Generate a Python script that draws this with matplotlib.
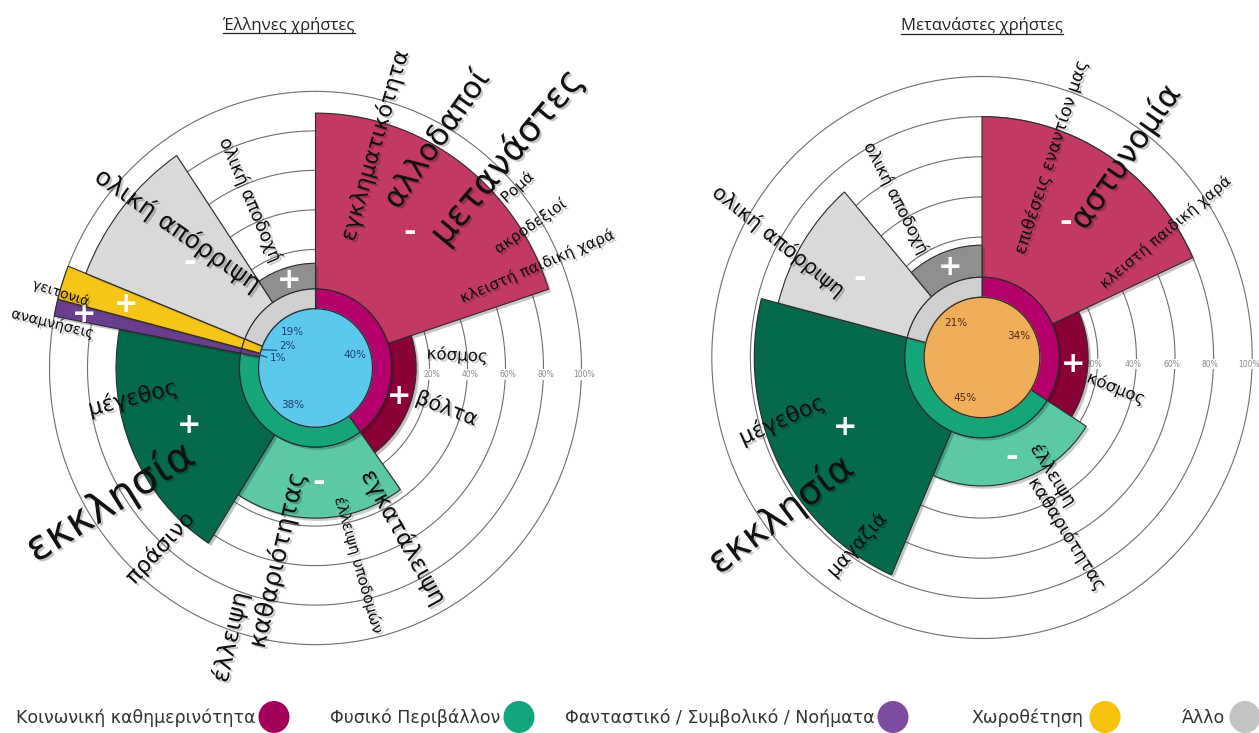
import numpy as np
import matplotlib
matplotlib.use('Agg')
import matplotlib.pyplot as plt
import matplotlib.patheffects as pe
from matplotlib.patches import Ellipse
from matplotlib.lines import Line2D

W, H = 1259, 733
fig = plt.figure(figsize=(W / 100, H / 100), dpi=100)
fig.patch.set_facecolor('white')

# ---------------- data ----------------
categories = ['Κοινωνική καθημερινότητα', 'Φυσικό Περιβάλλον',
              'Φανταστικό / Συμβολικό / Νοήματα', 'Χωροθέτηση', 'Άλλο']
titles = ['Έλληνες χρήστες', 'Μετανάστες χρήστες']
grid_levels = [20, 40, 60, 80, 100]

# inner pie: share of each category (%), clockwise from top
greek_share = [40, 38, 1, 2, 19]
migrant_share = [34, 45, 0, 0, 21]

# outer wedges: '-' (negative) wedge then '+' (positive) wedge per category
greek_neg_value = [89, 36, 0, 0, 90]
greek_pos_value = [13, 65, 100, 100, 13]
greek_neg_frac = [0.50, 0.50, 0.0, 0.0, 0.50]

migrant_neg_value = [80, 24, 0, 0, 69]
migrant_pos_value = [15, 78, 0, 0, 16]
migrant_neg_frac = [0.535, 0.50, 0.0, 0.0, 0.46]

greek_labels = ['εγκληματικότητα', 'αλλοδαποί', 'μετανάστες', 'Ρομά', 'ακροδεξιοί',
                'κλειστή παιδική χαρά', 'ολική αποδοχή', 'ολική απόρριψη', 'γειτονιά',
                'αναμνήσεις', 'μέγεθος', 'εκκλησία', 'πράσινο', 'έλλειψη', 'καθαριότητας',
                'έλλειψη υποδομών', 'εγκατάλειψη', 'κόσμος', 'βόλτα']
migrant_labels = ['επιθέσεις εναντίον μας', 'αστυνομία', 'κλειστή παιδική χαρά',
                  'ολική αποδοχή', 'ολική απόρριψη', 'μέγεθος', 'εκκλησία', 'μαγαζιά',
                  'έλλειψη', 'καθαριότητας', 'κόσμος']

# ---------------- styles / layout ----------------
ring_colors = ['#B5006B', '#14A578', '#6A3D8F', '#F5C210', '#CFCFCF']
neg_colors = ['#C23A63', '#5CC8A6', '#6A3D8F', '#F7C418', '#D9D9D9']
pos_colors = ['#8A0236', '#046A4B', '#6A3D8F', '#F7C418', '#8F8F8F']
legend_colors = ['#A3005C', '#13A57B', '#7D4BA0', '#F7C20E', '#C4C4C4']

greek_layout = [(375, 145, 74, 16), (437, 140, 55, 22), (507, 157, 50, 26),
                (517, 187, 42, 11), (530, 226, 35, 11), (537, 266, 23, 11),
                (250, 200, -67, 13), (178, 230, -35, 18), (61, 293, -18, 10),
                (53, 323, -14, 10.5), (133, 398, 14, 16), (110, 502, 32, 30),
                (160, 548, 47, 16), (230, 637, 77, 17), (277, 560, 77, 18),
                (359, 565, -74, 11), (404, 537, -61, 17), (457, 355, -3, 12),
                (447, 408, -21, 15)]
migrant_layout = [(1051, 157, 72, 12.5), (1126, 157, 55, 23), (1165, 232, 40, 11),
                  (896, 198, -63, 12), (779, 241, -39, 15), (782, 420, 24, 16),
                  (781, 515, 37, 27), (857, 545, 48, 14), (1053, 475, -58, 13),
                  (1067, 534, -58, 13), (1116, 388, -22, 12)]

R_PIE, R0, RMAX = 30.0, 40.0, 145.0
STRETCH = 1.04
text_fx = [pe.withSimplePatchShadow(offset=(1.5, -1.5), shadow_rgbFace='k', alpha=0.22)]
patch_fx = [pe.SimplePatchShadow(offset=(2, -2), alpha=0.25), pe.Normal()]


def px(x, y):
    return x / W, 1 - y / H


def make_polar(cx, cy, ppu):
    w = 2 * RMAX * ppu
    h = w * STRETCH
    ax = fig.add_axes([(cx - w / 2) / W, (H - cy - h / 2) / H, w / W, h / H],
                      projection='polar')
    ax.set_aspect('auto')
    ax.set_theta_zero_location('N')
    ax.set_theta_direction(-1)
    ax.set_ylim(0, RMAX)
    ax.axis('off')
    return ax


def draw_chart(ax, share, neg_val, pos_val, neg_frac, pie_color, pct_color,
               sign_frac=None, small_pct=None, grid_dx=0):
    share = np.asarray(share, float)
    widths = share / 100 * 2 * np.pi
    starts = np.concatenate([[0], np.cumsum(widths)[:-1]])
    th = np.linspace(0, 2 * np.pi, 400)
    # grid circles
    for lv in grid_levels:
        ax.plot(th, np.full_like(th, R0 + lv), color='#6E6E6E', lw=0.8, zorder=1)
        ax.annotate(f'{lv}%', xy=(np.pi / 2, R0 + lv), xytext=(grid_dx, -1.5),
                    textcoords='offset points', ha='center', va='top',
                    fontsize=5.5, color='#8A8A8A', zorder=1.5,
                    bbox=dict(fc='white', ec='none', pad=0.6))
    # outer wedges
    for i in range(len(share)):
        if widths[i] <= 0:
            continue
        wn = widths[i] * neg_frac[i]
        wp = widths[i] - wn
        if wn > 0 and neg_val[i] > 0:
            ax.bar(starts[i] + wn / 2, neg_val[i], width=wn, bottom=R0,
                   color=neg_colors[i], edgecolor='#2B2B2B', lw=0.8, zorder=2,
                   path_effects=patch_fx)
            ax.text(starts[i] + wn / 2, R0 + neg_val[i] * 0.5, '-', color='white',
                    fontsize=22, fontweight='bold', ha='center', va='center', zorder=6)
        if wp > 0 and pos_val[i] > 0:
            ax.bar(starts[i] + wn + wp / 2, pos_val[i], width=wp, bottom=R0,
                   color=pos_colors[i], edgecolor='#2B2B2B', lw=0.8, zorder=2,
                   path_effects=patch_fx)
            f = 0.5 if sign_frac is None else sign_frac[i]
            ax.text(starts[i] + wn + wp / 2, R0 + pos_val[i] * f, '+', color='white',
                    fontsize=21, fontweight='bold', ha='center', va='center', zorder=6)
    # category ring
    for i in range(len(share)):
        if widths[i] <= 0:
            continue
        ax.bar(starts[i] + widths[i] / 2, R0 - R_PIE, width=widths[i], bottom=R_PIE,
               color=ring_colors[i], edgecolor='#2B2B2B', lw=0.8, zorder=3,
               path_effects=patch_fx)
    # inner pie (single colour, seamless)
    for i in range(len(share)):
        if widths[i] <= 0:
            continue
        ax.bar(starts[i] + widths[i] / 2, R_PIE, width=widths[i], bottom=0,
               color=pie_color, edgecolor=pie_color, lw=1.0, zorder=4)
    ax.plot(th, np.full_like(th, R_PIE), color='#2B2B2B', lw=0.9, zorder=4.5)
    # pie percentage labels
    for i in range(len(share)):
        if share[i] <= 0:
            continue
        mid = starts[i] + widths[i] / 2
        if share[i] >= 5:
            ax.text(mid, 22, f'{share[i]:.0f}%', ha='center', va='center',
                    fontsize=7.5, color=pct_color, zorder=5)
        elif small_pct is not None:
            dx, dy = small_pct[i]
            ax.annotate(f'{share[i]:.0f}%', xy=(mid, R_PIE), xytext=(dx, dy),
                        textcoords='offset points', ha='right', va='bottom',
                        fontsize=7.5, color=pct_color, zorder=5,
                        arrowprops=dict(arrowstyle='-', color=pct_color, lw=0.8,
                                        relpos=(1, 0), shrinkA=0, shrinkB=0))


axL = make_polar(315.5, 368, 1.9)
draw_chart(axL, greek_share, greek_neg_value, greek_pos_value, greek_neg_frac,
           '#5CC8EE', '#1F3F70',
           sign_frac=[0.5, 0.5, 0.85, 0.65, 0.5],
           small_pct={2: (19, -6), 3: (25, -1)}, grid_dx=2)

axR = make_polar(982, 357.5, 1.93)
draw_chart(axR, migrant_share, migrant_neg_value, migrant_pos_value, migrant_neg_frac,
           '#F0AD5A', '#4A2A10', grid_dx=-2.5)

# free labels
for labels, layout in ((greek_labels, greek_layout), (migrant_labels, migrant_layout)):
    for s, (x, y, rot, fs) in zip(labels, layout):
        fig.text(*px(x, y), s, rotation=rot, rotation_mode='anchor', ha='center',
                 va='center', fontsize=fs, color='#111111', path_effects=text_fx,
                 zorder=10)

# titles with underline
title_objs = []
for t, (x, y) in zip(titles, [(289, 25), (982, 26)]):
    title_objs.append(fig.text(*px(x, y), t, ha='center', va='center', fontsize=12,
                               family=['Open Sans', 'DejaVu Sans'], color='#222222'))
fig.canvas.draw()
for tobj in title_objs:
    bb = tobj.get_window_extent()
    fig.add_artist(Line2D([bb.x0 / W, bb.x1 / W], [(bb.y0 + 1) / H] * 2,
                          transform=fig.transFigure, color='#222222', lw=0.9))

# legend
leg_text_right = [255, 500, 875, 1083, 1225]
leg_circle_x = [274, 519, 893, 1105, 1245]
for name, xr, xc, col in zip(categories, leg_text_right, leg_circle_x, legend_colors):
    fig.text(*px(xr, 718), name, ha='right', va='center', fontsize=12.5,
             color='#333333')
    fig.add_artist(Ellipse(px(xc, 717), 31 / W, 32 / H, transform=fig.transFigure,
                           facecolor=col, edgecolor='none'))

fig.savefig('out.png', dpi=100, facecolor='white')
